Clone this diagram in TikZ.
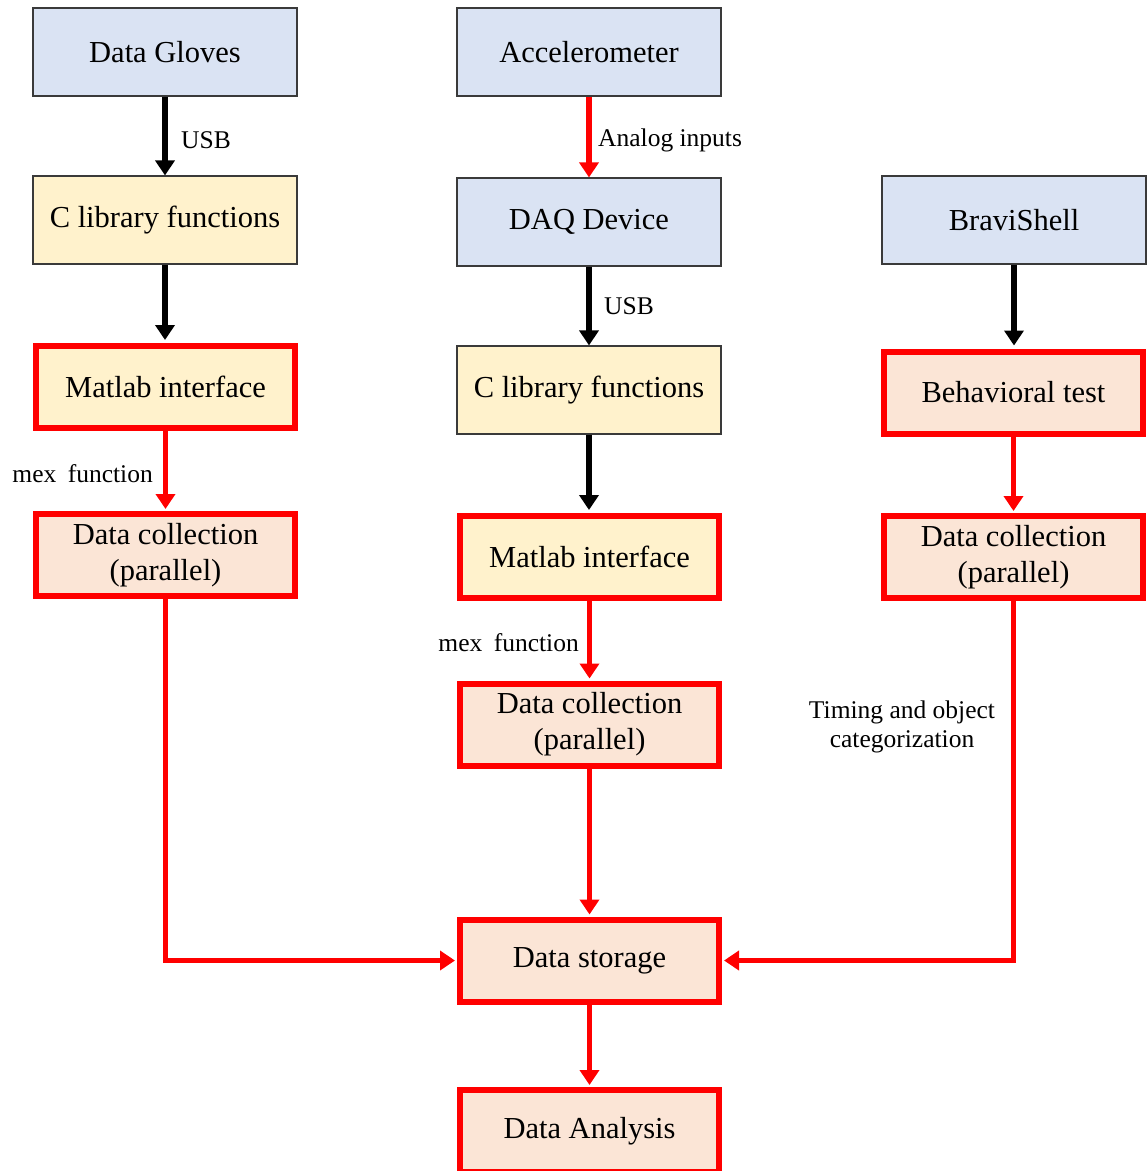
\documentclass[tikz,border=0pt]{standalone}
\usepackage{fontspec}
\setmainfont{Liberation Serif}
\usetikzlibrary{arrows.meta}
\definecolor{blueF}{HTML}{DAE3F3}
\definecolor{yelF}{HTML}{FFF2CC}
\definecolor{pinkF}{HTML}{FBE5D6}
\definecolor{redL}{HTML}{FF0000}
\definecolor{edgeG}{HTML}{3A3A3A}
\begin{document}
\begin{tikzpicture}[x=1pt,y=-1pt,
  base/.style={rectangle, inner sep=0pt, align=center, font=\fontsize{30.5}{36}\selectfont},
  dev/.style={base, fill=blueF, draw=edgeG, line width=1.2pt, minimum width=264pt, minimum height=88pt},
  lib/.style={base, fill=yelF, draw=edgeG, line width=1.2pt, minimum width=264pt, minimum height=88pt},
  redY/.style={base, fill=yelF, draw=redL, line width=6pt, minimum width=259pt, minimum height=82pt},
  redP/.style={base, fill=pinkF, draw=redL, line width=6pt, minimum width=259pt, minimum height=82pt},
  blk/.style={draw=black, line width=5.5pt, -{Triangle[length=15pt,width=19pt]}},
  rdd/.style={draw=redL, line width=5.5pt, -{Triangle[length=15pt,width=19pt]}},
  lbl/.style={font=\fontsize{25.5}{29}\selectfont, inner sep=0pt, align=center}
]
\useasboundingbox (0,0) rectangle (1147,1171);
\clip (0,0) rectangle (1147,1171);

% column 1
\node[dev]  (dg)  at (165,52)  {Data Gloves};
\node[lib]  (cl1) at (165,220) {C library functions};
\node[redY] (ml1) at (165.5,387) {Matlab interface};
\node[redP] (dc1) at (165.5,555) {Data collection\\(parallel)};

% column 2
\node[dev]  (acc) at (589,52)  {Accelerometer};
\node[dev]  (daq) at (589,222) {DAQ Device};
\node[lib]  (cl2) at (589,390) {C library functions};
\node[redY] (ml2) at (589.5,557) {Matlab interface};
\node[redP] (dc2) at (589.5,724.5) {Data collection\\(parallel)};
\node[redP] (st)  at (589.5,960.5) {Data storage};
\node[redP] (an)  at (589.5,1131) {Data Analysis};

% column 3
\node[dev]  (bs)  at (1014,220) {BraviShell};
\node[redP] (bt)  at (1013.5,392.5) {Behavioral test};
\node[redP] (dc3) at (1013.5,557) {Data collection\\(parallel)};

% connectors
\draw[blk] (dg.south) -- (cl1.north);
\draw[blk, shorten >=3pt] (cl1.south) -- (ml1.north -| cl1.south);
\draw[rdd, shorten >=2pt] (ml1.south) -- (dc1.north);

\draw[rdd] (acc.south) -- (daq.north);
\draw[blk] (daq.south) -- (cl2.north);
\draw[blk, shorten >=3pt] (cl2.south) -- (ml2.north -| cl2.south);
\draw[rdd, shorten >=2pt] (ml2.south) -- (dc2.north);
\draw[rdd, shorten >=2pt] (dc2.south) -- (st.north);
\draw[rdd, shorten >=2pt] (st.south) -- (an.north);

\draw[blk, shorten >=3pt] (bs.south) -- (bt.north -| bs.south);
\draw[rdd, shorten >=2pt] (bt.south) -- (dc3.north);

\draw[rdd, shorten >=2pt] (dc1.south) |- (st.west);
\draw[rdd, shorten >=2pt] (dc3.south) |- (st.east);

% labels
\node[lbl, anchor=west] (l1) at (181,140) {USB};
\node[lbl, anchor=west] (l2) at (598,140) {Analog inputs};
\node[lbl, anchor=west] (l3) at (604,306) {USB};
\node[lbl, anchor=east] (l4) at (153,474) {mex\hspace{0.45em}function};
\node[lbl, anchor=east] (l5) at (579,643) {mex\hspace{0.45em}function};
\node[lbl] (l6) at (902,727) {Timing and object\\categorization};
\end{tikzpicture}
\end{document}
